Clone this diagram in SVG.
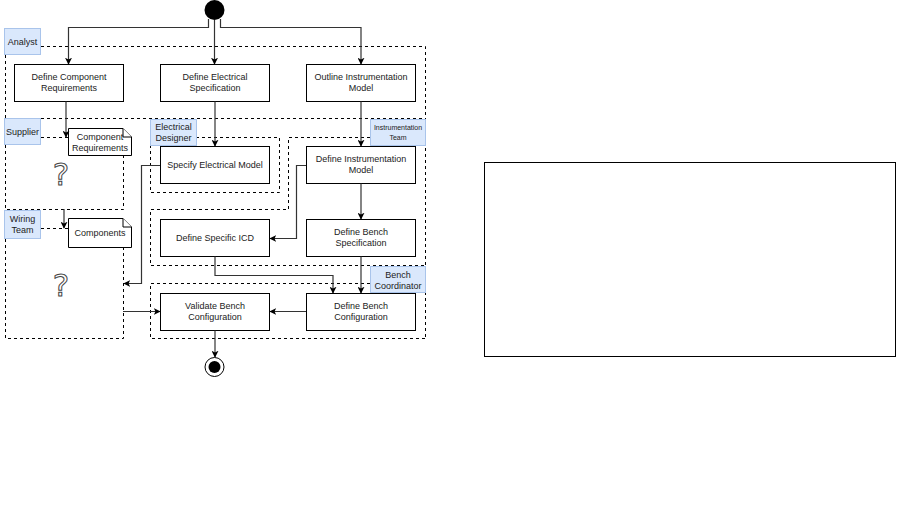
<svg xmlns="http://www.w3.org/2000/svg" width="901" height="520" viewBox="0 0 901 520">
<defs>
<marker id="arr" viewBox="0 0 10 10" refX="9" refY="5" markerWidth="7" markerHeight="7" orient="auto" markerUnits="userSpaceOnUse">
<path d="M0,0 L10,5 L0,10 L2.5,5 Z" fill="#000"/>
</marker>
<style>
.lane{fill:none;stroke:#000;stroke-width:1;stroke-dasharray:3,3}
.lbl{fill:#dae8fc;stroke:#a9c4eb;stroke-width:1}
.box{fill:#fff;stroke:#000;stroke-width:1}
.doc{fill:#fff;stroke:#000;stroke-width:1}
.t{font-family:"Liberation Sans",Arial,sans-serif;font-size:9px;fill:#222;text-anchor:middle}
.ts{font-family:"Liberation Sans",Arial,sans-serif;font-size:7px;fill:#222;text-anchor:middle}
.c{fill:none;stroke:#333;stroke-width:1.2}
.q{font-family:"DejaVu Sans",sans-serif;font-size:31px;fill:#fff;stroke:#444;stroke-width:1;text-anchor:middle}
</style>
</defs>
<rect width="901" height="520" fill="#fff"/>

<g id="lanes">
<path class="lane" d="M41,46.5 H425.5 V338"/>
<path class="lane" d="M5.5,55 V118"/>
<path class="lane" d="M5,118.5 H425"/>
<path class="lane" d="M41,137.5 H68 M123.5,155 V209.5 H5.5 V137"/>
<path class="lane" d="M41,228.5 H68 M123.5,247 V338.5 H5.5 V228"/>
<path class="lane" d="M196,137.5 H279.5 V192.5 H150.5 V146"/>
<path class="lane" d="M370,137.5 H288.5 V209.5 H150.5 V265.5 H425"/>
<path class="lane" d="M370,283.5 H150.5 V338.5 H425"/>
</g>

<g id="lane-analyst"><rect class="lbl" x="4.5" y="28.5" width="36" height="26"/><text class="t" x="22.5" y="45">Analyst</text></g>
<g id="lane-supplier"><rect class="lbl" x="4.5" y="118.5" width="36" height="26"/><text class="t" x="22.5" y="135">Supplier</text></g>
<g id="lane-wiring"><rect class="lbl" x="4.5" y="210.5" width="36" height="28"/><text class="t" x="22.5" y="222">Wiring</text><text class="t" x="22.5" y="233">Team</text></g>
<g id="lane-electrical"><rect class="lbl" x="150.5" y="119.5" width="46" height="26"/><text class="t" x="173.5" y="130">Electrical</text><text class="t" x="173.5" y="141">Designer</text></g>
<g id="lane-instrumentation"><rect class="lbl" x="370.5" y="119.5" width="55" height="26"/><text class="ts" x="398" y="130">Instrumentation</text><text class="ts" x="398" y="140">Team</text></g>
<g id="lane-bench"><rect class="lbl" x="370.5" y="266.5" width="55" height="26"/><text class="t" x="398" y="278">Bench</text><text class="t" x="398" y="289">Coordinator</text></g>

<g id="start"><circle cx="214.5" cy="10" r="10" fill="#000"/></g>
<g id="end"><circle cx="214.5" cy="367" r="9.5" fill="#fff" stroke="#000" stroke-width="1"/><circle cx="214.5" cy="367" r="6" fill="#000"/></g>

<g id="n-dcr"><rect class="box" x="14.5" y="64.5" width="109" height="37"/><text class="t" x="69" y="80">Define Component</text><text class="t" x="69" y="91">Requirements</text></g>
<g id="n-des"><rect class="box" x="160.5" y="64.5" width="109" height="37"/><text class="t" x="215" y="80">Define Electrical</text><text class="t" x="215" y="91">Specification</text></g>
<g id="n-oim"><rect class="box" x="306.5" y="64.5" width="109" height="37"/><text class="t" x="361" y="80">Outline Instrumentation</text><text class="t" x="361" y="91">Model</text></g>
<g id="n-sem"><rect class="box" x="160.5" y="146.5" width="109" height="37"/><text class="t" x="215" y="168">Specify Electrical Model</text></g>
<g id="n-dim"><rect class="box" x="306.5" y="146.5" width="109" height="37"/><text class="t" x="361" y="162">Define Instrumentation</text><text class="t" x="361" y="173">Model</text></g>
<g id="n-icd"><rect class="box" x="160.5" y="219.5" width="109" height="37"/><text class="t" x="215" y="241">Define Specific ICD</text></g>
<g id="n-dbs"><rect class="box" x="306.5" y="219.5" width="109" height="37"/><text class="t" x="361" y="235">Define Bench</text><text class="t" x="361" y="246">Specification</text></g>
<g id="n-vbc"><rect class="box" x="160.5" y="293.5" width="109" height="37"/><text class="t" x="215" y="309">Validate Bench</text><text class="t" x="215" y="320">Configuration</text></g>
<g id="n-dbc"><rect class="box" x="306.5" y="293.5" width="109" height="37"/><text class="t" x="361" y="309">Define Bench</text><text class="t" x="361" y="320">Configuration</text></g>

<g id="doc-cr"><path class="doc" d="M68.5,128.5 H123 L131.5,137 V155.5 H68.5 Z"/><path class="doc" d="M123,128.5 V137 H131.5" fill="none"/><text class="t" x="100" y="140">Component</text><text class="t" x="100" y="151">Requirements</text></g>
<g id="doc-comp"><path class="doc" d="M68.5,218.5 H123 L131.5,227 V247.5 H68.5 Z"/><path class="doc" d="M123,218.5 V227 H131.5" fill="none"/><text class="t" x="100" y="236">Components</text></g>

<g id="q1"><text class="q" x="61" y="185">?</text></g>
<g id="q2"><text class="q" x="61" y="296">?</text></g>

<g id="connectors">
<path class="c" d="M208.5,19 V27.5 H68.5 V64" marker-end="url(#arr)"/>
<path class="c" d="M214.5,20 V64" marker-end="url(#arr)"/>
<path class="c" d="M220.5,19 V27.5 H361 V64" marker-end="url(#arr)"/>
<path class="c" d="M66,101.5 V137" marker-end="url(#arr)"/>
<path class="c" d="M64,209 V228" marker-end="url(#arr)"/>
<path class="c" d="M215,101.5 V146" marker-end="url(#arr)"/>
<path class="c" d="M361,101.5 V146" marker-end="url(#arr)"/>
<path class="c" d="M361,183.5 V219" marker-end="url(#arr)"/>
<path class="c" d="M306,165.5 H296.5 V238.5 H270" marker-end="url(#arr)"/>
<path class="c" d="M160,165.5 H141.5 V283.5 H124" marker-end="url(#arr)"/>
<path class="c" d="M123,311.5 H160" marker-end="url(#arr)"/>
<path class="c" d="M215,256.5 V275.5 H333 V293" marker-end="url(#arr)"/>
<path class="c" d="M361,256.5 V293" marker-end="url(#arr)"/>
<path class="c" d="M306,311.5 H270" marker-end="url(#arr)"/>
<path class="c" d="M215,330.5 V357" marker-end="url(#arr)"/>
</g>

<g id="panel"><rect x="484.5" y="162.5" width="411" height="194" fill="none" stroke="#000" stroke-width="1"/></g>
</svg>
